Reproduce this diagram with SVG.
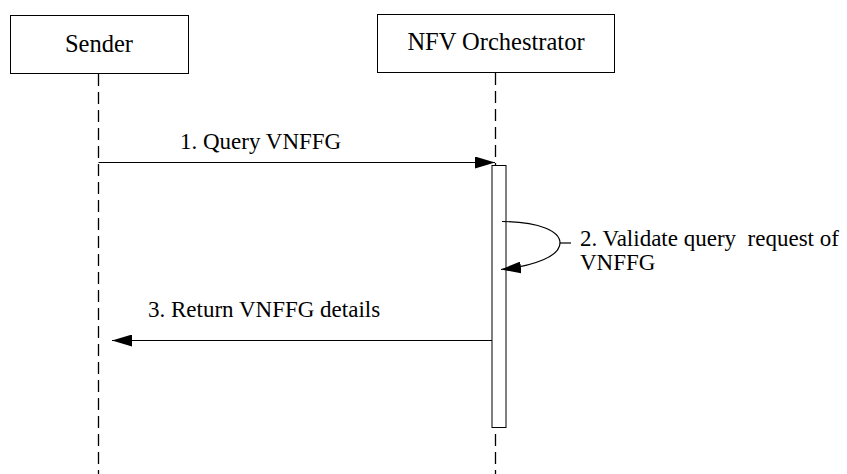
<svg xmlns="http://www.w3.org/2000/svg" width="847" height="474" viewBox="0 0 847 474">
<style>
.box{fill:#fff;stroke:#000;stroke-width:1}
.life{stroke:#000;stroke-width:1.3;stroke-dasharray:12 6;fill:none}
.msg{stroke:#000;stroke-width:1.2;fill:none}
text{fill:#000}
</style>
<defs>
<marker id="ah" viewBox="0 0 20 12" refX="20" refY="6" markerWidth="20" markerHeight="12" markerUnits="userSpaceOnUse" orient="auto">
<path d="M0,0 L20,6 L0,12 Z" fill="#000"/>
</marker>
</defs>
<g font-family="'Liberation Serif', 'Times New Roman', Times, serif">
<g id="sender">
<rect class="box" x="10.5" y="15.5" width="178" height="58"/>
<text x="99" y="52" font-size="24.5" text-anchor="middle">Sender</text>
</g>
<g id="nfvo">
<rect class="box" x="377.5" y="14.5" width="237" height="58"/>
<text x="496" y="50" font-size="24.5" text-anchor="middle">NFV Orchestrator</text>
</g>
<g id="lifelines">
<line class="life" x1="98.5" y1="74" x2="98.5" y2="474"/>
<line class="life" x1="495.5" y1="73" x2="495.5" y2="165"/>
<line class="life" x1="495.5" y1="434" x2="495.5" y2="474"/>
</g>
<g id="activation">
<rect class="box" x="492" y="165.5" width="14" height="262"/>
</g>
<g id="connectors">
<line class="msg" x1="98.5" y1="162.5" x2="495" y2="162.5" marker-end="url(#ah)"/>
<path class="msg" d="M502,221.5 C540,222 560,231 560,243 C560,256 535,266 501,269.5" marker-end="url(#ah)"/>
<line class="msg" x1="560" y1="243" x2="571" y2="243"/>
<line class="msg" x1="492" y1="340.5" x2="112" y2="340.5" marker-end="url(#ah)"/>
</g>
<g id="labels" font-size="23">
<text x="180" y="149">1. Query VNFFG</text>
<text x="580" y="246" xml:space="preserve">2. Validate query  request of</text>
<text x="580" y="270">VNFFG</text>
<text x="148" y="317">3. Return VNFFG details</text>
</g>
</g>
</svg>
